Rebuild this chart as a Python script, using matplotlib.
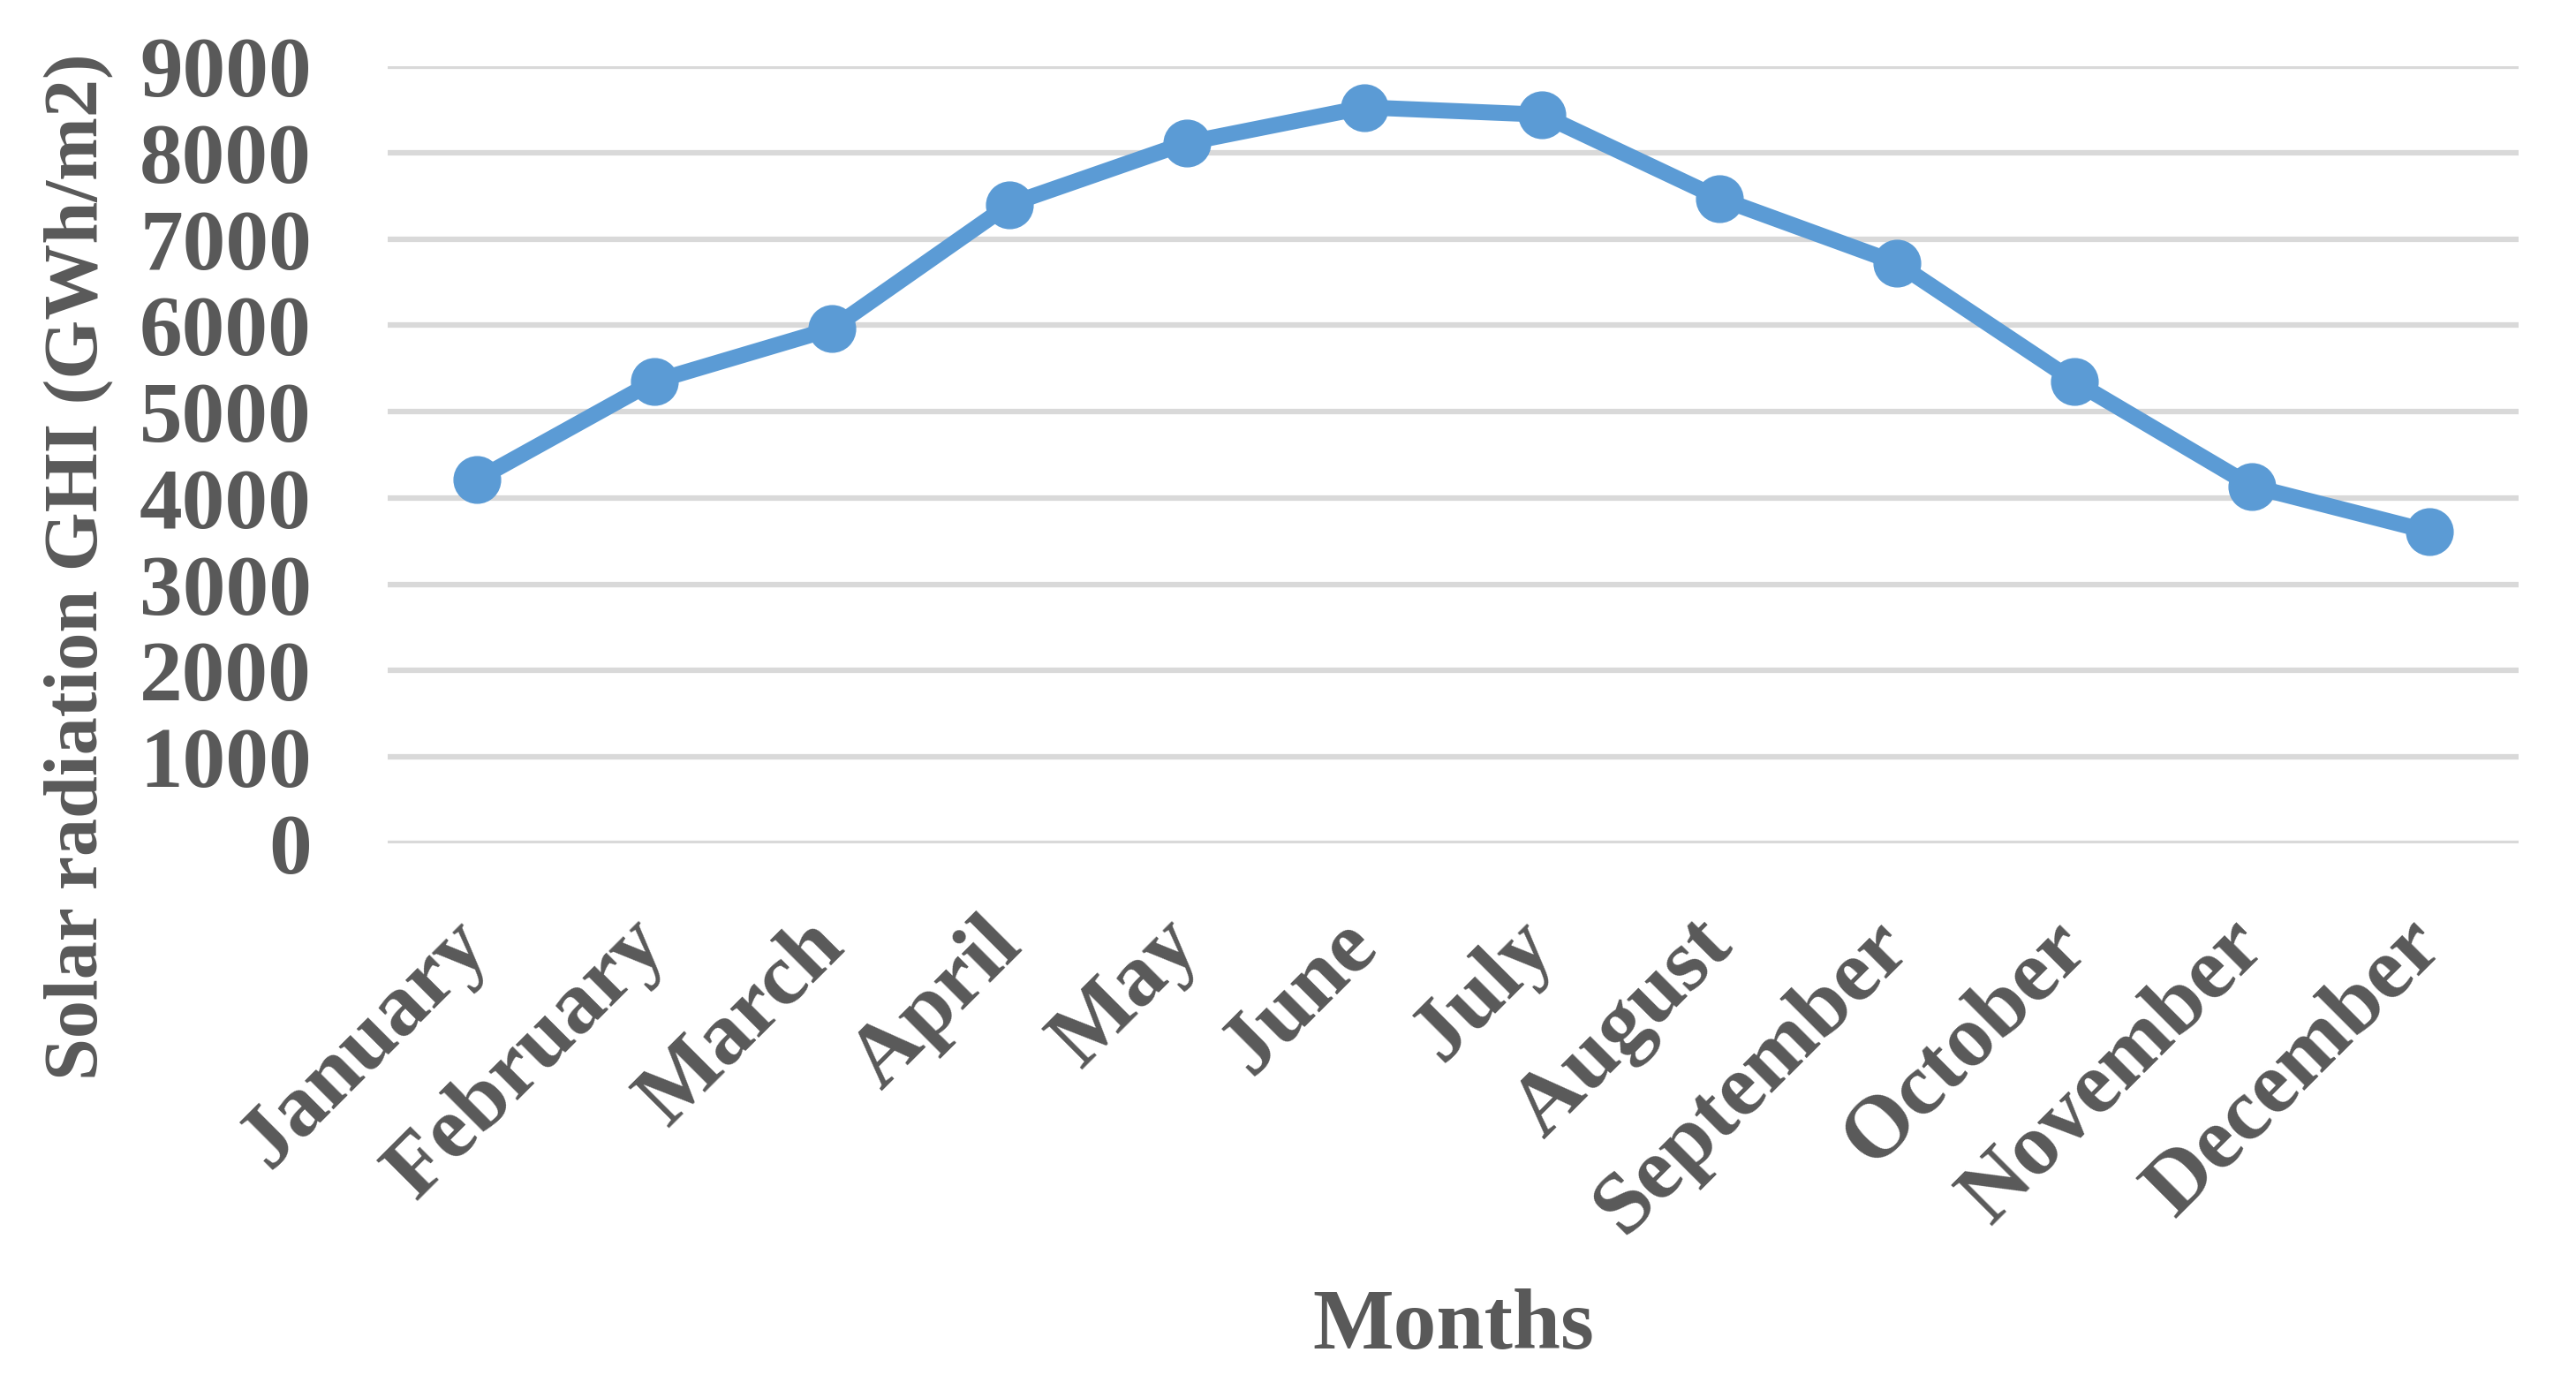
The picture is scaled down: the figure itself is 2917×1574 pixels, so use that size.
import matplotlib
matplotlib.use("Agg")
import matplotlib.pyplot as plt
from matplotlib.transforms import ScaledTranslation

# monthly GHI values
months = ["January", "February", "March", "April", "May", "June", "July",
          "August", "September", "October", "November", "December"]
ghi = [4210, 5350, 5960, 7400, 8115, 8525, 8440, 7470, 6720, 5350, 4135, 3610]
yticks = [0, 1000, 2000, 3000, 4000, 5000, 6000, 7000, 8000, 9000]

grey = "#595959"
blue = "#5B9BD5"

plt.rcParams["font.family"] = ["Liberation Serif", "DejaVu Serif"]
plt.rcParams["font.weight"] = "bold"

fig = plt.figure(figsize=(29.17, 15.74), dpi=100)
ax = fig.add_axes([0.1505, 0.3933, 0.8272, 0.559])

x = list(range(len(months)))
ax.plot(x, ghi, color=blue, linewidth=13, marker="o", markersize=38,
        zorder=3, clip_on=False)

ax.set_xlim(-0.5, len(months) - 0.5)
ax.set_ylim(0, 9000)
ax.set_yticks(yticks)
ax.set_yticklabels([str(v) for v in yticks], fontsize=70, color=grey,
                   fontweight="bold")
ax.set_xticks(x)
ax.set_xticklabels([])

# month labels, rotated 45 deg, placed by hand so they sit like the original
lbl_tr = ax.get_xaxis_transform() + ScaledTranslation(0.0, -1.02,
                                                      fig.dpi_scale_trans)
for i, m in enumerate(months):
    ax.text(i, 0, m, transform=lbl_tr, fontsize=72, color=grey,
            fontweight="bold", rotation=45, ha="right", va="center",
            rotation_mode="anchor")

ax.grid(axis="y", color="#D9D9D9", linewidth=4.5)
ax.set_axisbelow(True)
for s in ax.spines.values():
    s.set_visible(False)
ax.tick_params(axis="y", length=0, pad=62)
ax.tick_params(axis="x", length=0)

ax.set_ylabel("Solar radiation GHI (GWh/m2)", fontsize=62, color=grey,
              fontweight="bold")
ax.yaxis.label.set_va("center")
ax.yaxis.set_label_coords(-0.145, 0.356)
ax.set_xlabel("Months", fontsize=70, color=grey, fontweight="bold")
ax.xaxis.label.set_va("center")
ax.xaxis.set_label_coords(0.5, -0.623)

fig.savefig("out.png", dpi=100, facecolor="white")
